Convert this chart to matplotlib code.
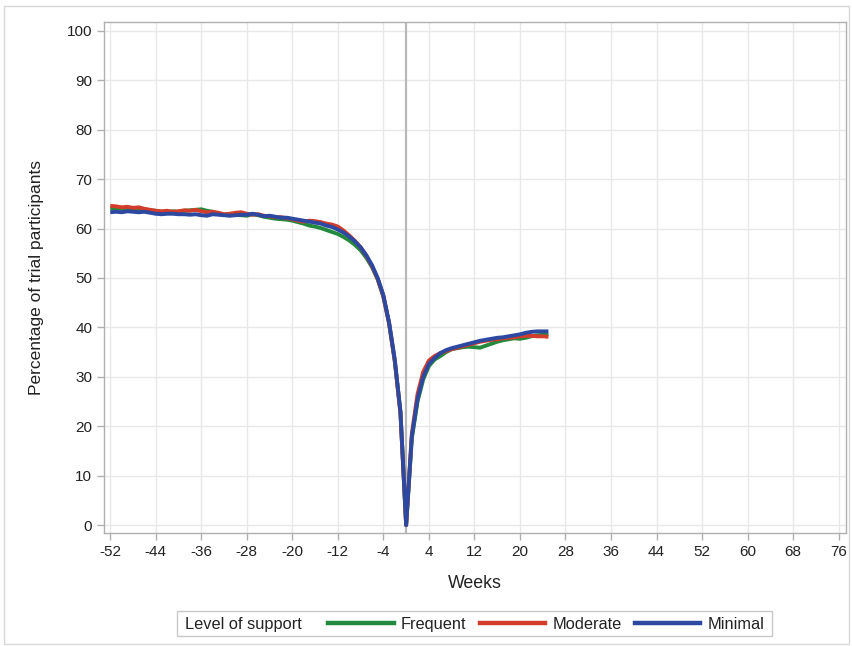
import matplotlib
matplotlib.use("Agg")
import matplotlib.pyplot as plt
from matplotlib.lines import Line2D
from matplotlib.patches import Rectangle

plt.rcParams['font.family'] = ['Liberation Sans', 'DejaVu Sans']
plt.rcParams['axes.unicode_minus'] = False

weeks = list(range(-52, 26))

minimal = [
    63.3, 63.4, 63.3, 63.5, 63.4, 63.3, 63.4, 63.2, 63.0, 62.9,
    63.0, 63.0, 62.9, 62.9, 62.8, 62.9, 62.7, 62.6, 62.9, 62.8,
    62.7, 62.6, 62.7, 62.8, 62.8, 63.0, 62.8, 62.5, 62.6, 62.4,
    62.2, 62.2, 62.0, 61.8, 61.6, 61.4, 61.2, 61.0, 60.6, 60.3,
    59.8, 59.2, 58.4, 57.4, 56.2, 54.6, 52.6, 50.0, 46.5, 41.0,
    33.5, 23.0, 0.0, 18.0, 25.5, 30.0, 32.6, 33.8, 34.8, 35.4,
    35.8, 36.1, 36.4, 36.7, 37.0, 37.3, 37.5, 37.7, 37.9, 38.0,
    38.2, 38.4, 38.6, 38.9, 39.1, 39.2, 39.2, 39.2,
]

moderate = [
    64.6, 64.5, 64.3, 64.4, 64.2, 64.3, 64.0, 63.8, 63.6, 63.5,
    63.6, 63.4, 63.5, 63.7, 63.6, 63.8, 63.5, 63.3, 63.4, 63.2,
    62.9, 63.0, 63.2, 63.3, 63.0, 62.8, 62.9, 62.6, 62.5, 62.3,
    62.3, 62.1, 61.9, 61.6, 61.4, 61.6, 61.5, 61.3, 61.0, 60.8,
    60.4, 59.6, 58.6, 57.5, 56.2, 54.5, 52.4, 49.8, 46.3, 40.8,
    33.2, 22.5, 0.0, 18.5, 26.5, 31.0, 33.3, 34.2, 34.8, 35.2,
    35.6, 35.9, 36.2, 36.5, 36.8, 37.1, 37.3, 37.5, 37.6, 37.8,
    37.9, 38.0, 38.2, 38.3, 38.3, 38.2, 38.2, 38.1,
]

frequent = [
    64.0, 64.1, 64.0, 63.9, 64.0, 63.8, 63.9, 63.7, 63.6, 63.4,
    63.3, 63.5, 63.4, 63.6, 63.7, 63.8, 63.9, 63.6, 63.4, 63.0,
    62.8, 62.7, 62.9, 62.7, 62.6, 62.9, 62.7, 62.4, 62.2, 62.0,
    61.9, 61.8, 61.6, 61.3, 61.0, 60.6, 60.4, 60.1, 59.7, 59.3,
    58.9, 58.3, 57.6, 56.7, 55.6, 54.1, 52.2, 49.7, 46.2, 40.8,
    33.2, 22.8, 0.0, 17.5, 25.0, 29.5, 32.2, 33.5, 34.2, 35.0,
    35.6, 35.8, 36.0, 36.1, 36.0, 35.9, 36.3, 36.7, 37.1, 37.4,
    37.6, 37.8, 37.7, 37.9, 38.2, 38.4, 38.5, 38.6,
]

series_names = ["Frequent", "Moderate", "Minimal"]
series_values = [frequent, moderate, minimal]
colors = ["#23893c", "#d23c2a", "#2c48a0"]

x_ticks = list(range(-52, 77, 8))
y_ticks = list(range(0, 101, 10))

fig = plt.figure(figsize=(8.53, 6.46), dpi=100)
ax = fig.add_axes([104/853, 113/646, (846-104)/853, (533-22)/646])

ax.set_xlim(-53.1, 77.3)
ax.set_ylim(-1.6, 101.8)
ax.set_xticks(x_ticks)
ax.set_yticks(y_ticks)
ax.grid(True, color="#e8e8e8", linewidth=1.0)
ax.set_axisbelow(True)
ax.axvline(0, color="#b8b8b8", linewidth=1.6, zorder=1.5)

for name, vals, c in zip(series_names, series_values, colors):
    ax.plot(weeks, vals, color=c, linewidth=2.8, label=name, zorder=3,
            solid_joinstyle="round", solid_capstyle="butt")

for sp in ax.spines.values():
    sp.set_color("#b0b0b0")
    sp.set_linewidth(1.0)
ax.tick_params(axis="both", colors="#b0b0b0", labelcolor="#222222",
               labelsize=11, length=5, width=1.0)
ax.set_xlabel("Weeks", fontsize=12.8, color="#222222", labelpad=12)
ax.set_ylabel("Percentage of trial participants", fontsize=12.5,
              color="#222222", labelpad=16)

# legend (title inline to the left)
fig.patches.append(Rectangle((177/853, 10/646), (772-177)/853, 25/646,
                             transform=fig.transFigure, fill=False,
                             edgecolor="#c8c8c8", linewidth=1.0))
fig.text(185/853, 23/646, "Level of support", fontsize=11.8,
         color="#222222", va="center_baseline", ha="left")
handles = [Line2D([], [], color=c, linewidth=3.2) for c in colors]
fig.legend(handles, series_names, ncol=3, frameon=False,
           loc="center left", bbox_to_anchor=(328/853, 21.5/646),
           borderpad=0, borderaxespad=0, handlelength=4.0,
           handletextpad=0.45, columnspacing=0.8, fontsize=11.8,
           labelcolor="#222222")

# outer figure border
fig.patches.append(Rectangle((4/853, 2/646), (849-4)/853, (638)/646,
                             transform=fig.transFigure, fill=False,
                             edgecolor="#d8d8d8", linewidth=1.0))

fig.savefig("out.png", dpi=100)
